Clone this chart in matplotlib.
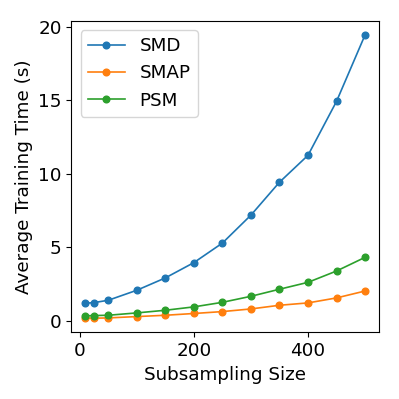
import matplotlib
matplotlib.use("Agg")
import matplotlib.pyplot as plt

# subsampling sizes and average training time (s) per dataset
sizes = [10, 25, 50, 100, 150, 200, 250, 300, 350, 400, 450, 500]
smd = [1.18, 1.22, 1.38, 2.06, 2.90, 3.94, 5.27, 7.17, 9.41, 11.24, 14.91, 19.43]
smap = [0.16, 0.16, 0.18, 0.27, 0.36, 0.48, 0.61, 0.79, 1.04, 1.20, 1.54, 2.01]
psm = [0.32, 0.34, 0.36, 0.52, 0.70, 0.93, 1.24, 1.65, 2.13, 2.60, 3.37, 4.30]

fs = 13.2

fig = plt.figure(figsize=(3.99, 3.99), dpi=100)
ax = fig.add_axes([0.179, 0.167, 0.771, 0.781])

ax.plot(sizes, smd, marker='o', markersize=4.8, linewidth=1.2, label='SMD')
ax.plot(sizes, smap, marker='o', markersize=4.8, linewidth=1.2, label='SMAP')
ax.plot(sizes, psm, marker='o', markersize=4.8, linewidth=1.2, label='PSM')

ax.set_xlabel('Subsampling Size', fontsize=fs)
ax.set_ylabel('Average Training Time (s)', fontsize=fs)
ax.tick_params(labelsize=fs)
ax.set_yticks([0, 5, 10, 15, 20])
ax.legend(fontsize=fs, loc='upper left')

fig.savefig('out.png', dpi=100)
